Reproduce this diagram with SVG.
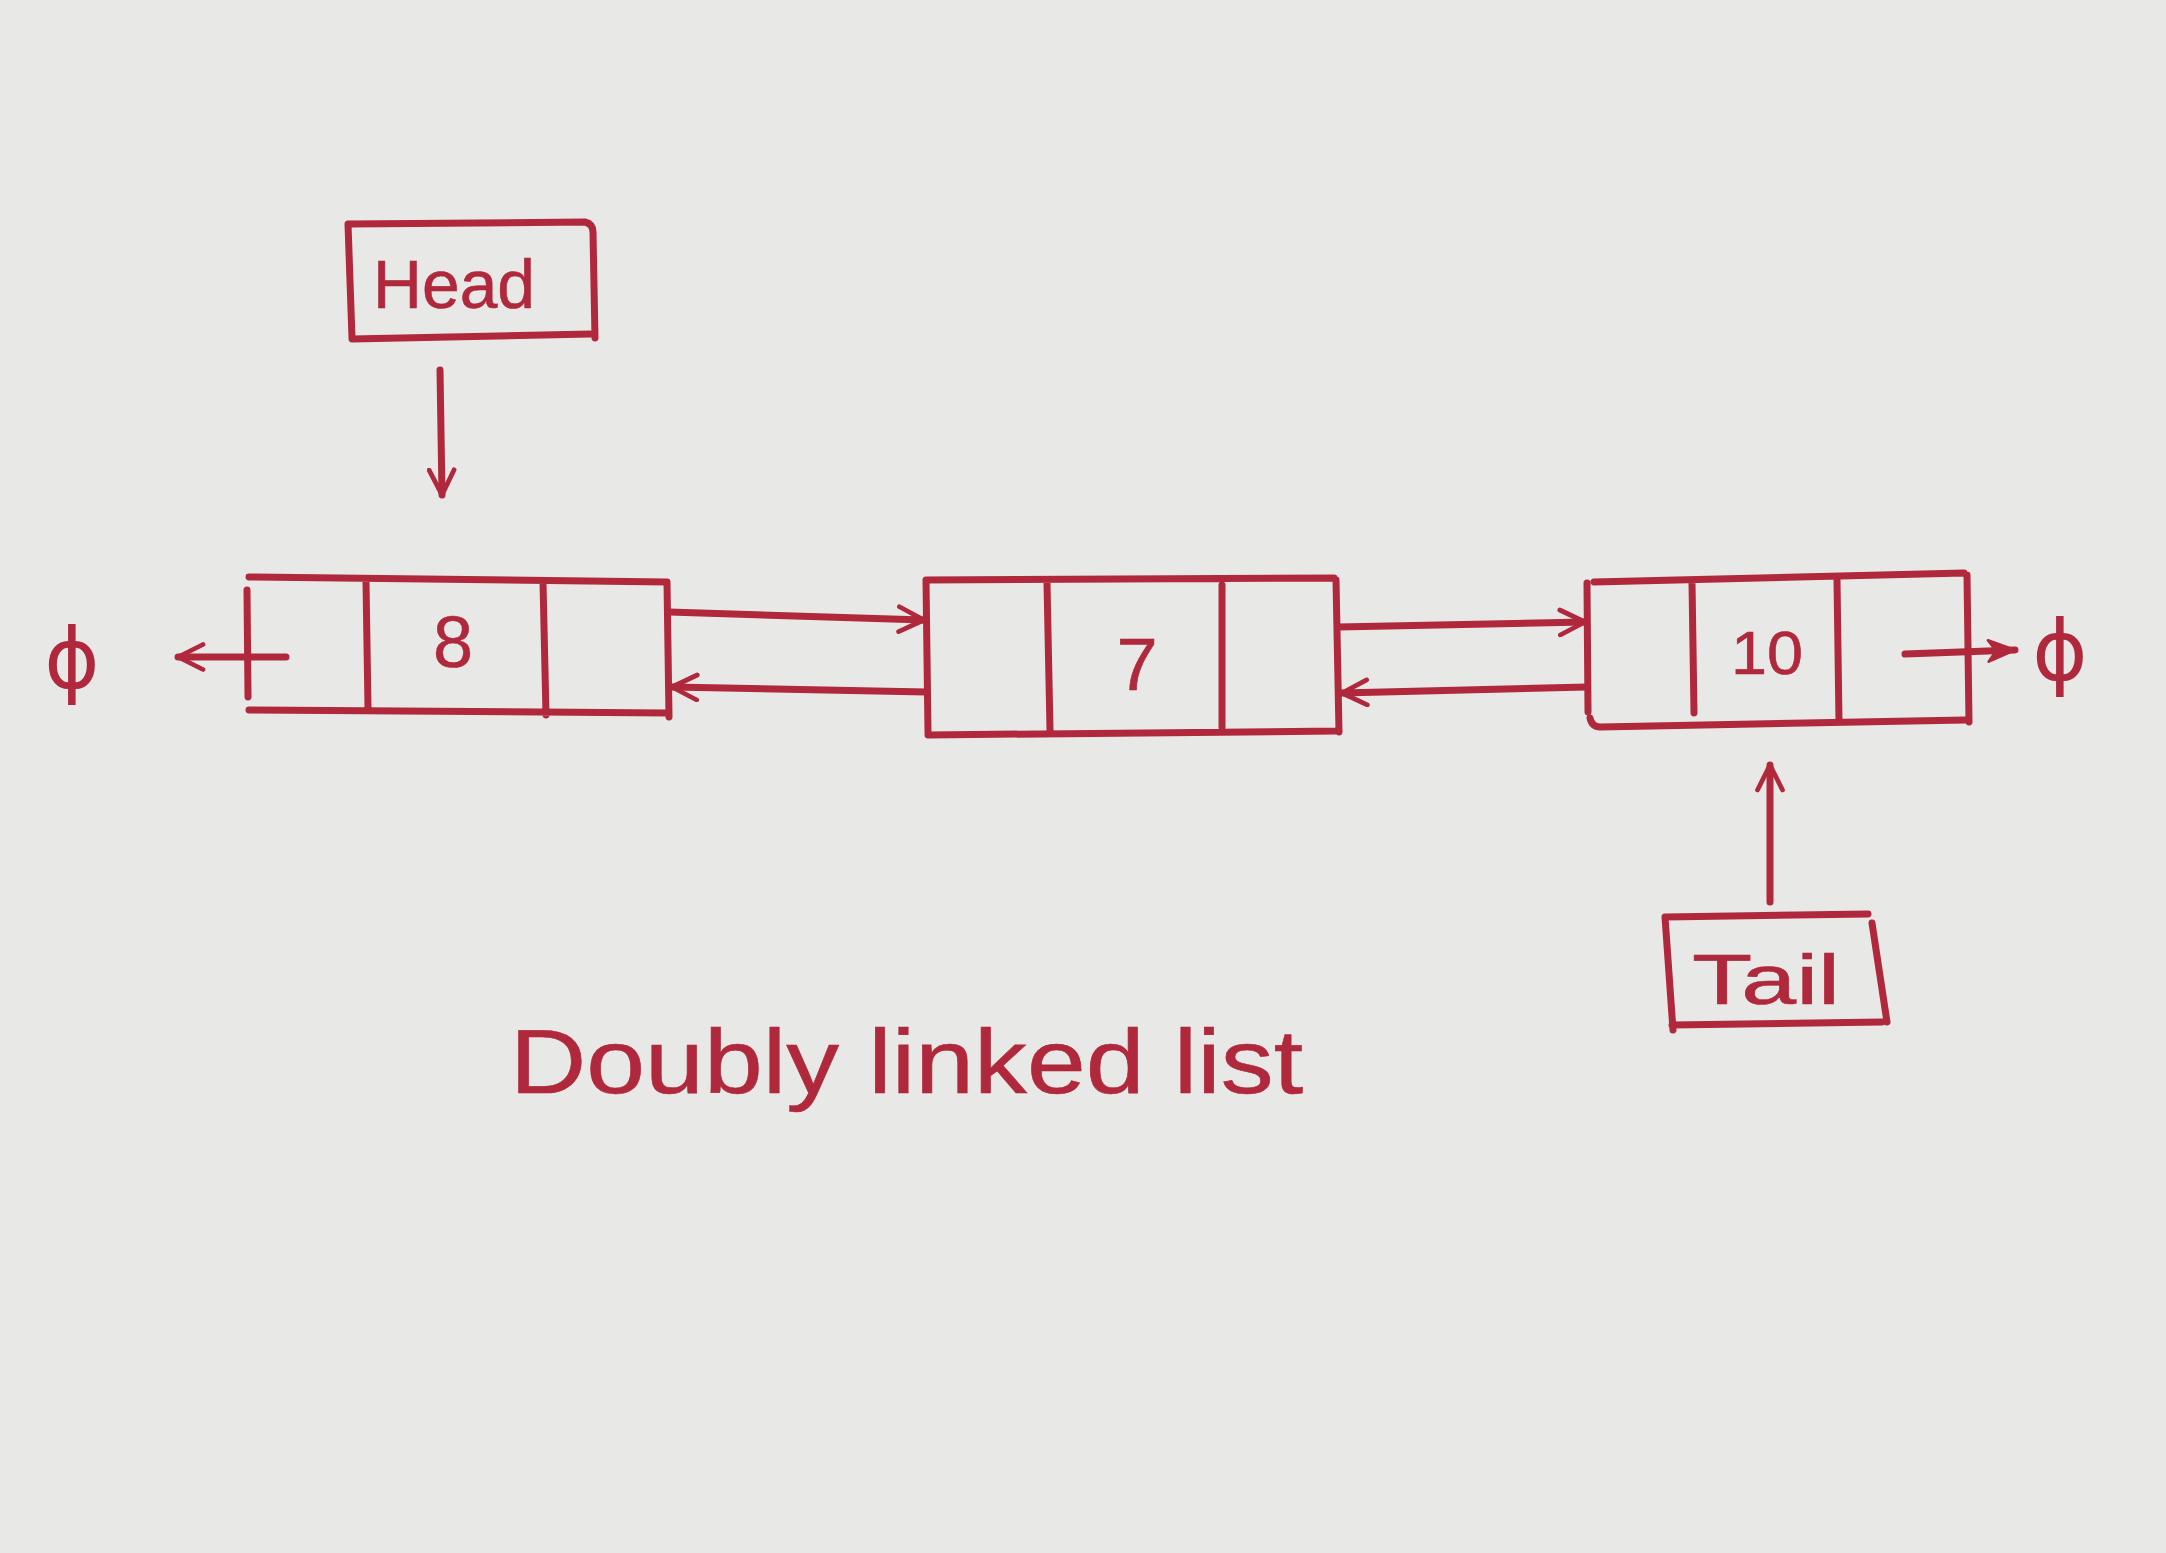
<svg xmlns="http://www.w3.org/2000/svg" width="2166" height="1553" viewBox="0 0 2166 1553">
  <style>
    .ink{fill:none;stroke:#b0283c;stroke-width:7;stroke-linecap:round;stroke-linejoin:round}
    .lbl{fill:#b0283c;stroke:#b0283c;stroke-width:0.6;font-family:"Liberation Sans","DejaVu Sans",sans-serif}
    .sym{fill:#b0283c;font-family:"DejaVu Sans","Liberation Sans",sans-serif}
  </style>
  <defs>
    <marker id="arr" viewBox="0 0 12 12" refX="11" refY="6" markerWidth="30" markerHeight="30" markerUnits="userSpaceOnUse" orient="auto">
      <path d="M1,1 L11,6 L1,11" fill="none" stroke="#b0283c" stroke-width="1.9" stroke-linecap="round" stroke-linejoin="round"/>
    </marker>
    <marker id="arrFill" viewBox="0 0 12 12" refX="11" refY="6" markerWidth="36" markerHeight="32" markerUnits="userSpaceOnUse" orient="auto">
      <path d="M1,2 L11,6 L1,10 L4,6 Z" fill="#b0283c" stroke="#b0283c" stroke-width="1" stroke-linejoin="round"/>
    </marker>
  </defs>
  <rect x="0" y="0" width="2166" height="1553" fill="#e8e8e6"/>

  <g id="head">
    <path class="ink" d="M349 224 L585 222 Q593 224 593 232 L595 338 M348 224 L352 338 M352 339 L590 334"/>
    <text class="lbl" x="454" y="308" font-size="68" text-anchor="middle" textLength="162" lengthAdjust="spacingAndGlyphs">Head</text>
  </g>

  <g id="node-8">
    <path class="ink" d="M249 577 L667 582 M247 590 L248 697 M249 710 L667 713 M667 582 L669 717 M366 582 L368 708 M543 582 L546 715"/>
    <text class="lbl" x="453" y="667" font-size="72" text-anchor="middle">8</text>
  </g>

  <g id="node-7">
    <path class="ink" d="M926 580 L1334 578 M926 580 L928 733 M928 735 L1336 731 M1336 580 L1339 732 M1047 583 L1050 730 M1222 585 L1222 727"/>
    <text class="lbl" x="1137" y="690" font-size="74" text-anchor="middle">7</text>
  </g>

  <g id="node-10">
    <path class="ink" d="M1594 582 L1964 573 M1587 583 L1588 712 M1590 718 Q1592 727 1600 727 L1965 720 M1967 575 L1969 722 M1692 582 L1694 713 M1837 580 L1839 722"/>
    <text class="lbl" x="1767" y="674" font-size="62" text-anchor="middle" textLength="72" lengthAdjust="spacingAndGlyphs">10</text>
  </g>

  <g id="tail">
    <path class="ink" d="M1665 917 L1868 914 M1665 917 L1673 1030 M1672 1025 L1882 1022 M1872 923 L1887 1022"/>
    <text class="lbl" x="1766" y="1004" font-size="70" text-anchor="middle" textLength="148" lengthAdjust="spacingAndGlyphs">Tail</text>
  </g>

  <g id="null-left">
    <text class="sym" x="72" y="688" font-size="84" text-anchor="middle">ϕ</text>
  </g>

  <g id="null-right">
    <text class="sym" x="2060" y="680" font-size="84" text-anchor="middle">ϕ</text>
  </g>

  <g id="caption">
    <text class="lbl" x="510" y="1093" font-size="90" textLength="793" lengthAdjust="spacingAndGlyphs">Doubly linked list</text>
  </g>

  <g id="connectors">
    <path class="ink" marker-end="url(#arr)" d="M440 370 L442 495"/>
    <path class="ink" marker-end="url(#arr)" d="M669 612 L924 620"/>
    <path class="ink" marker-end="url(#arr)" d="M926 692 L672 687"/>
    <path class="ink" marker-end="url(#arr)" d="M1338 627 L1585 622"/>
    <path class="ink" marker-end="url(#arr)" d="M1587 687 L1342 693"/>
    <path class="ink" marker-end="url(#arr)" d="M1770 902 L1770 765"/>
    <path class="ink" marker-end="url(#arr)" d="M286 657 L178 657"/>
    <path class="ink" marker-end="url(#arrFill)" d="M1905 654 L2015 650"/>
  </g>
</svg>
